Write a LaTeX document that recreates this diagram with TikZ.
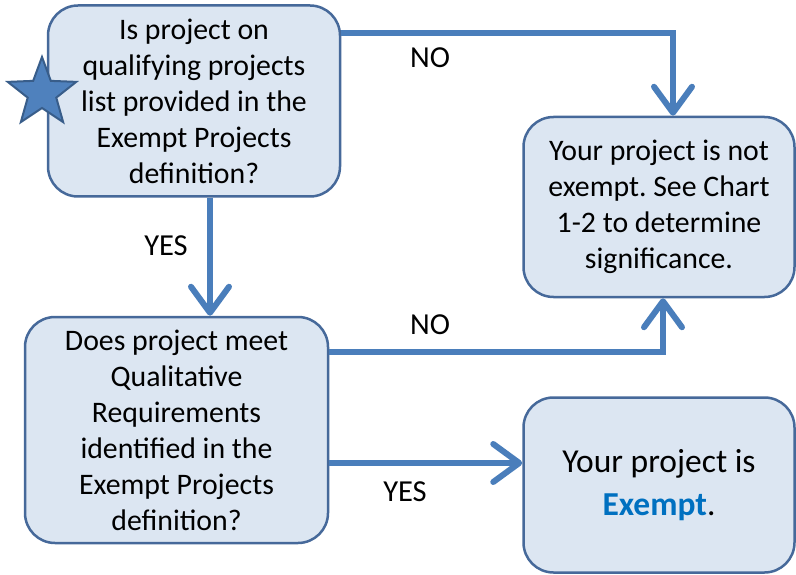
\documentclass[tikz,border=0pt]{standalone}
\usepackage{fontspec}
\setmainfont{Carlito}
\frenchspacing
\usetikzlibrary{arrows.meta,shapes.geometric}
\definecolor{boxfill}{HTML}{DCE6F2}
\definecolor{boxdraw}{HTML}{46699A}
\definecolor{arrowc}{HTML}{4A7EBB}
\definecolor{starfill}{HTML}{4F81BD}
\definecolor{stardraw}{HTML}{385D8A}
\definecolor{exemptc}{HTML}{0070C0}
\tikzset{
  box/.style={draw=boxdraw, fill=boxfill, line width=2.5pt, rounded corners=30pt,
    align=center, inner sep=0pt, font=\fontsize{29.8}{36}\selectfont},
  conn/.style={draw=arrowc, line width=6pt,
    -{Straight Barb[length=26pt,width=38pt,round]}},
  lbl/.style={font=\fontsize{30.5}{36}\selectfont, inner sep=0pt}
}
\begin{document}
\begin{tikzpicture}[x=1pt,y=-1pt]
\useasboundingbox (0,0) rectangle (796,575);
\node[box, minimum width=292pt, minimum height=191pt] (b1) at (194,101)
  {Is project on\\qualifying projects\\list provided in the\\Exempt Projects\\definition?};
\node[box, minimum width=271pt, minimum height=180pt] (b2) at (659,207)
  {Your project is not\\exempt. See Chart\\1-2 to determine\\significance.};
\node[box, minimum width=303pt, minimum height=226pt] (b3) at (176.5,430)
  {Does project meet\\Qualitative\\Requirements\\identified in the\\Exempt Projects\\definition?};
\node[box, minimum width=271pt, minimum height=175pt, font=\fontsize{33.5}{43}\selectfont] (b4) at (659,485)
  {Your project is\\\textbf{\textcolor{exemptc}{Exempt}}.};
\node[star, star points=5, star point ratio=2.4, minimum size=72pt, inner sep=0pt,
  fill=starfill, draw=stardraw, line width=2pt] (st) at (42,93) {};
\coordinate (c1) at (673,33);
\draw[conn] (b1.east |- c1) -- (c1) -- (b2.north -| c1);
\coordinate (c2) at (663,352);
\draw[conn] (b3.east |- c2) -- (c2) -- (b2.south -| c2);
\coordinate (c3) at (210,0);
\draw[conn] (b1.south -| c3) -- (b3.north -| c3);
\coordinate (c4) at (0,463);
\draw[conn] (b3.east |- c4) -- (b4.west |- c4);
\node[lbl] (n1) at (430,58) {NO};
\node[lbl] (y1) at (166,246) {YES};
\node[lbl] (n2) at (430,325) {NO};
\node[lbl] (y2) at (405,492) {YES};
\end{tikzpicture}
\end{document}
